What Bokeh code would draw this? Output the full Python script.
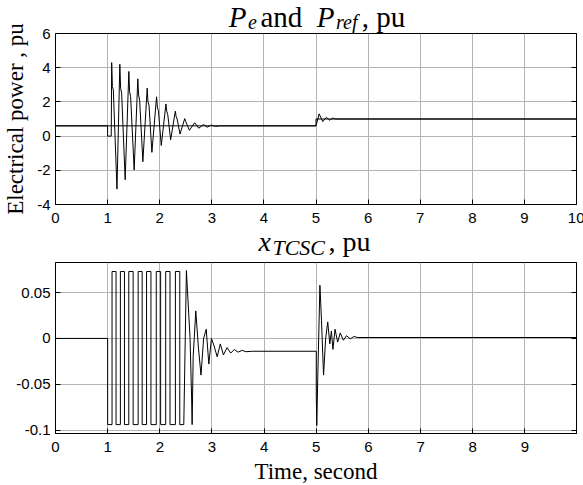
from bokeh.plotting import figure
from bokeh.models import Range1d, FixedTicker, Label, LinearAxis, CustomJSTickFormatter
from bokeh.layouts import column
from bokeh.embed import file_html
from bokeh.resources import INLINE

# ---------------- data ----------------
pref_t = [0.0, 5.0, 5.0, 10.0]
pref_v = [0.6, 0.6, 1.0, 1.0]

pe_t = [0.0, 1.0, 1.0, 1.07, 1.078, 1.092, 1.11, 1.18,
        1.235, 1.25, 1.27, 1.337,
        1.408, 1.422, 1.442, 1.51,
        1.58, 1.595, 1.615, 1.677,
        1.76, 1.775, 1.795, 1.85,
        1.94, 1.955, 1.975, 2.03,
        2.12, 2.135, 2.155, 2.21,
        2.30, 2.315, 2.335, 2.39,
        2.48, 2.50, 2.57, 2.67, 2.75, 2.84, 2.91, 2.99, 3.07, 3.15,
        5.0, 5.06, 5.13, 5.2, 5.26, 5.32, 5.38, 10.0]
pe_v = [0.6, 0.6, 0.0, 0.0, 4.3, 2.9, 2.7, -3.1,
        4.2, 2.8, 2.5, -2.55,
        3.78, 2.6, 2.3, -1.98,
        3.35, 2.4, 2.1, -1.5,
        2.8, 2.0, 1.8, -0.95,
        2.3, 1.7, 1.5, -0.55,
        1.88, 1.45, 1.25, -0.22,
        1.46, 1.15, 1.0, 0.12,
        1.02, 0.85, 0.34, 0.78, 0.46, 0.68, 0.52, 0.65, 0.56, 0.6,
        0.6, 1.3, 0.85, 1.1, 0.93, 1.05, 1.0, 1.0]

xt_t = [0.0, 1.0, 1.0,
        1.084, 1.084, 1.161, 1.161, 1.244, 1.244, 1.322, 1.322,
        1.405, 1.405, 1.489, 1.489, 1.585, 1.585, 1.662, 1.662,
        1.746, 1.746, 1.83, 1.83, 1.932, 1.932, 2.016, 2.016,
        2.113, 2.113, 2.196, 2.196, 2.299, 2.299, 2.383, 2.383,
        2.46, 2.51, 2.58, 2.61, 2.62, 2.64, 2.69, 2.74, 2.79, 2.84, 2.89, 2.94,
        2.99, 3.04, 3.1, 3.16, 3.22, 3.29, 3.36, 3.43, 3.5, 3.58, 3.65, 3.78,
        5.0, 5.0, 5.01, 5.03, 5.07, 5.1, 5.14, 5.18, 5.22, 5.26, 5.29, 5.32,
        5.36, 5.41, 5.46, 5.52, 5.58, 5.65, 5.72, 5.8, 9.99]
xt_v = [0.0, 0.0, -0.094,
        -0.094, 0.073, 0.073, -0.094, -0.094, 0.073, 0.073, -0.094,
        -0.094, 0.073, 0.073, -0.094, -0.094, 0.073, 0.073, -0.094,
        -0.094, 0.073, 0.073, -0.094, -0.094, 0.073, 0.073, -0.094,
        -0.094, 0.073, 0.073, -0.094, -0.094, 0.073, 0.073, -0.094,
        -0.094, 0.074, 0.0, -0.065, -0.094, -0.02, 0.03, -0.01, -0.04, 0.0, 0.01, -0.028,
        0.0, -0.008, -0.02, -0.006, -0.018, -0.01, -0.016, -0.012, -0.015, -0.013, -0.0145, -0.014,
        -0.014, -0.062, -0.095, -0.04, 0.058, 0.02, -0.04, 0.0, 0.018, -0.006, 0.008, -0.012,
        0.01, -0.004, 0.006, -0.002, 0.003, -0.0005, 0.002, 0.001, 0.001]

top_xticks = [0, 1, 2, 3, 4, 5, 6, 7, 8, 9, 10]
top_yticks = [-4, -2, 0, 2, 4, 6]
top_ylabels = ["-4", "-2", "0", "2", "4", "6"]
bot_xticks = [0, 1, 2, 3, 4, 5, 6, 7, 8, 9]
bot_yticks = [-0.1, -0.05, 0.0, 0.05]
bot_ylabels = ["-0.1", "-0.05", "0", "0.05"]

# ---------------- styling ----------------
SERIF = "Liberation Serif"
SANS = "Liberation Sans"
GRID = "#b4b4b4"
LEFT, RIGHT = 54, 8          # frame borders shared by every row of the column
FW, FH = 521, 171
W_TOTAL = LEFT + FW + RIGHT  # 583

# Times metrics (em) used to lay out sub-scripted titles
W_IT = {"P": .611, "e": .444, "r": .389, "f": .278, "x": .444, "T": .556, "C": .667, "S": .5}
W_RM = {" ": .25, "a": .444, "n": .5, "d": .5, ",": .25, "p": .5, "u": .5}
MID = 0.3375  # baseline -> middle of the text box, in em


def seg_width(txt, italic, size):
    tbl = W_IT if italic else W_RM
    return sum(tbl.get(c, .5) for c in txt) * size


def title_strip(h):
    f = figure(width=W_TOTAL, height=h, x_range=Range1d(0, FW), y_range=Range1d(0, h),
               x_axis_type=None, y_axis_type=None, toolbar_location=None, title=None,
               output_backend="svg", min_border_left=LEFT, min_border_right=RIGHT,
               min_border_top=0, min_border_bottom=0)
    f.outline_line_color = None
    f.background_fill_color = None
    f.border_fill_color = None
    return f


def add_rich_title(f, h, parts, cx, base, sub_base, main_fs, sub_fs):
    """parts: (text, italic, is_sub, gap_after); baselines are px from the strip top."""
    widths = [seg_width(t, it, sub_fs if sub else main_fs) + (1.5 if it else 0) + g
              for t, it, sub, g in parts]
    x = cx - sum(widths) / 2
    for (t, it, sub, g), w in zip(parts, widths):
        size = sub_fs if sub else main_fs
        b = sub_base if sub else base
        f.add_layout(Label(x=x, y=h - (b - MID * size), x_units="screen", y_units="screen",
                           text=t, text_font=SERIF, text_font_size=f"{size}px",
                           text_font_style="italic" if it else "normal",
                           text_color="black", text_align="left", text_baseline="middle"))
        x += w


def style(p, xt, yt, ylab):
    p.background_fill_color = "white"
    p.border_fill_color = None
    p.outline_line_color = "black"
    p.outline_line_width = 1
    p.outline_line_alpha = 1
    for ax in (p.xaxis[0], p.yaxis[0]):
        ax.axis_line_color = "black"
        ax.major_tick_line_color = "black"
        ax.major_tick_in = 5
        ax.major_tick_out = 0
        ax.minor_tick_line_color = None
        ax.major_label_text_font = SANS
        ax.major_label_text_font_size = "15px"
        ax.major_label_text_color = "black"
        ax.axis_label_text_font = SERIF
        ax.axis_label_text_font_size = "23px"
        ax.axis_label_text_font_style = "normal"
        ax.axis_label_text_color = "black"
    p.xaxis[0].ticker = FixedTicker(ticks=xt)
    p.yaxis[0].ticker = FixedTicker(ticks=yt)
    p.xaxis[0].major_label_overrides = {v: str(v) for v in xt}
    p.yaxis[0].major_label_overrides = dict(zip(yt, ylab))
    p.xaxis[0].major_label_standoff = 8
    p.yaxis[0].major_label_standoff = 5
    p.xgrid.grid_line_color = GRID
    p.ygrid.grid_line_color = GRID
    p.xgrid.grid_line_width = 1
    p.ygrid.grid_line_width = 1
    # inward ticks on the right side too (MATLAB "box on")
    blank = CustomJSTickFormatter(code="return ''")
    ra = LinearAxis(ticker=FixedTicker(ticks=yt), formatter=blank, major_tick_in=5, major_tick_out=0,
                    minor_tick_line_color=None, major_label_standoff=0, axis_line_color="black",
                    major_label_text_font_size="1px")
    p.add_layout(ra, "right")


# ---- top title strip (page y 0..33) ----
T1H = 33
t1 = title_strip(T1H)
add_rich_title(t1, T1H, [("P", True, False, 0), ("e", True, True, 2), (" and ", False, False, 0),
                         ("P", True, False, 0), ("ref", True, True, 2), (", pu", False, False, 0)],
               cx=315.5 - LEFT, base=26, sub_base=28.5, main_fs=29, sub_fs=20)

# ---- top panel (overlaps the strip by 12 px so the top tick label has room) ----
p1 = figure(frame_width=FW, frame_height=FH, x_range=Range1d(0, 10), y_range=Range1d(-4, 6),
            output_backend="svg", toolbar_location=None, title=None,
            min_border_left=LEFT, min_border_right=RIGHT, min_border_top=12, min_border_bottom=25)
p1.margin = (-12, 0, 0, 0)
style(p1, top_xticks, top_yticks, top_ylabels)
p1.yaxis[0].axis_label = "Electrical power , pu"
p1.yaxis[0].axis_label_standoff = 6
p1.line(pref_t, pref_v, line_color="black", line_width=1)
p1.line(pe_t, pe_v, line_color="black", line_width=1)

# ---- bottom title strip (page y 225..262) ----
T2H = 37
t2 = title_strip(T2H)
t2.margin = (-4, 0, 0, 0)
add_rich_title(t2, T2H, [("x", True, False, 0), ("TCSC", True, True, 2), (", pu", False, False, 0)],
               cx=313 - LEFT, base=25.5, sub_base=29.5, main_fs=28, sub_fs=22)

# ---- bottom panel ----
p2 = figure(frame_width=FW, frame_height=FH, x_range=Range1d(0, 9.99), y_range=Range1d(-0.1037, 0.0828),
            output_backend="svg", toolbar_location=None, title=None,
            min_border_left=LEFT, min_border_right=RIGHT, min_border_top=0, min_border_bottom=52)
style(p2, bot_xticks, bot_yticks, bot_ylabels)
p2.xaxis[0].axis_label = "Time, second"
p2.xaxis[0].axis_label_standoff = 4
p2.line(xt_t, xt_v, line_color="black", line_width=1)

layout = column(t1, p1, t2, p2)
open("out.html", "w").write(file_html(layout, INLINE))
